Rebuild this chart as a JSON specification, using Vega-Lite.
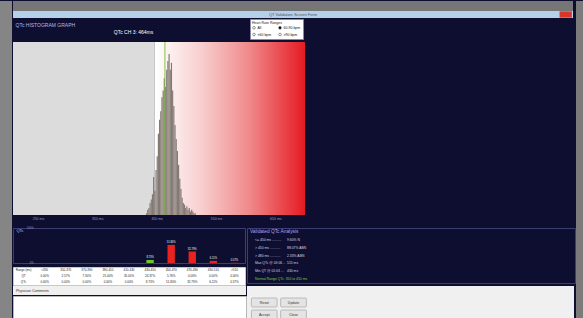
{
  "$schema": "https://vega.github.io/schema/vega-lite/v6.json",
  "background": "#0d0e30",
  "padding": 0,
  "spacing": 0,
  "align": "none",
  "resolve": {"legend": {"fill": "independent", "color": "independent"}},
  "config": {"view": {"stroke": null}, "font": "Liberation Sans"},
  "datasets": {
    "zones": [
      {"zone": "normal", "from": 208, "to": 447},
      {"zone": "prolonged", "from": 447, "to": 700}
    ],
    "hist": [
      {"lo": 432, "hi": 434, "count": 1}, {"lo": 434, "hi": 436, "count": 3},
      {"lo": 436, "hi": 438, "count": 4}, {"lo": 438, "hi": 440, "count": 7},
      {"lo": 440, "hi": 442, "count": 9}, {"lo": 442, "hi": 444, "count": 12},
      {"lo": 444, "hi": 446, "count": 22}, {"lo": 446, "hi": 448, "count": 14},
      {"lo": 448, "hi": 450, "count": 26}, {"lo": 450, "hi": 452, "count": 34},
      {"lo": 452, "hi": 454, "count": 47}, {"lo": 454, "hi": 456, "count": 55},
      {"lo": 456, "hi": 458, "count": 60}, {"lo": 458, "hi": 460, "count": 68},
      {"lo": 460, "hi": 462, "count": 72}, {"lo": 462, "hi": 464, "count": 79},
      {"lo": 464, "hi": 466, "count": 74}, {"lo": 466, "hi": 468, "count": 84},
      {"lo": 468, "hi": 470, "count": 89}, {"lo": 470, "hi": 472, "count": 93},
      {"lo": 472, "hi": 474, "count": 84}, {"lo": 474, "hi": 476, "count": 88},
      {"lo": 476, "hi": 478, "count": 72}, {"lo": 478, "hi": 480, "count": 63},
      {"lo": 480, "hi": 482, "count": 52}, {"lo": 482, "hi": 484, "count": 44},
      {"lo": 484, "hi": 486, "count": 37}, {"lo": 486, "hi": 488, "count": 29},
      {"lo": 488, "hi": 490, "count": 21}, {"lo": 490, "hi": 492, "count": 15},
      {"lo": 492, "hi": 494, "count": 10}, {"lo": 494, "hi": 496, "count": 7},
      {"lo": 496, "hi": 498, "count": 6}, {"lo": 498, "hi": 500, "count": 4},
      {"lo": 500, "hi": 502, "count": 5}, {"lo": 502, "hi": 504, "count": 3},
      {"lo": 504, "hi": 506, "count": 4}, {"lo": 506, "hi": 508, "count": 2},
      {"lo": 508, "hi": 510, "count": 3}, {"lo": 510, "hi": 512, "count": 2},
      {"lo": 512, "hi": 514, "count": 1}, {"lo": 514, "hi": 516, "count": 1}
    ],
    "ranges": [
      {"range": "All"}, {"range": "<60 bpm"}, {"range": "60-90 bpm"}, {"range": ">90 bpm"}
    ],
    "dist": [
      {"range": "<350", "pct": 0, "status": "normal", "label": "0.00%"},
      {"range": "350-370", "pct": 0, "status": "normal", "label": "0.00%"},
      {"range": "370-390", "pct": 0, "status": "normal", "label": "0.00%"},
      {"range": "390-410", "pct": 0, "status": "normal", "label": "0.00%"},
      {"range": "410-430", "pct": 0, "status": "normal", "label": "0.00%"},
      {"range": "430-450", "pct": 8.73, "status": "normal", "label": "8.73%"},
      {"range": "450-470", "pct": 51.8, "status": "abnormal", "label": "51.80%"},
      {"range": "470-490", "pct": 32.79, "status": "abnormal", "label": "32.79%"},
      {"range": "490-510", "pct": 6.11, "status": "abnormal", "label": "6.11%"},
      {"range": ">510", "pct": 0.57, "status": "abnormal", "label": "0.57%"}
    ],
    "table": [
      {"col": "head", "row": "Range (ms)", "text": "Range (ms)"},
      {"col": "head", "row": "QT", "text": "QT"},
      {"col": "head", "row": "QTc", "text": "QTc"},
      {"col": "<350", "row": "Range (ms)", "text": "<350"},
      {"col": "<350", "row": "QT", "text": "0.00%"},
      {"col": "<350", "row": "QTc", "text": "0.00%"},
      {"col": "350-370", "row": "Range (ms)", "text": "350-370"},
      {"col": "350-370", "row": "QT", "text": "2.57%"},
      {"col": "350-370", "row": "QTc", "text": "0.00%"},
      {"col": "370-390", "row": "Range (ms)", "text": "370-390"},
      {"col": "370-390", "row": "QT", "text": "7.30%"},
      {"col": "370-390", "row": "QTc", "text": "0.00%"},
      {"col": "390-410", "row": "Range (ms)", "text": "390-410"},
      {"col": "390-410", "row": "QT", "text": "25.00%"},
      {"col": "390-410", "row": "QTc", "text": "0.00%"},
      {"col": "410-430", "row": "Range (ms)", "text": "410-430"},
      {"col": "410-430", "row": "QT", "text": "35.00%"},
      {"col": "410-430", "row": "QTc", "text": "0.00%"},
      {"col": "430-450", "row": "Range (ms)", "text": "430-450"},
      {"col": "430-450", "row": "QT", "text": "24.37%"},
      {"col": "430-450", "row": "QTc", "text": "8.73%"},
      {"col": "450-470", "row": "Range (ms)", "text": "450-470"},
      {"col": "450-470", "row": "QT", "text": "5.76%"},
      {"col": "450-470", "row": "QTc", "text": "51.80%"},
      {"col": "470-490", "row": "Range (ms)", "text": "470-490"},
      {"col": "470-490", "row": "QT", "text": "0.00%"},
      {"col": "470-490", "row": "QTc", "text": "32.79%"},
      {"col": "490-510", "row": "Range (ms)", "text": "490-510"},
      {"col": "490-510", "row": "QT", "text": "0.00%"},
      {"col": "490-510", "row": "QTc", "text": "6.11%"},
      {"col": ">510", "row": "Range (ms)", "text": ">510"},
      {"col": ">510", "row": "QT", "text": "0.00%"},
      {"col": ">510", "row": "QTc", "text": "0.57%"}
    ],
    "analysis": [
      {"line": 1, "kind": "title", "label": "Validated QTc Analysis", "value": ""},
      {"line": 2, "kind": "item", "label": "<= 450 ms ..........", "value": "9.60% N"},
      {"line": 3, "kind": "item", "label": "> 450 ms ...........", "value": "88.07% ABN"},
      {"line": 4, "kind": "item", "label": "> 480 ms ...........", "value": "2.33% ABN"},
      {"line": 5, "kind": "item", "label": "Max QTc @ 03:06 ..", "value": "515 ms"},
      {"line": 6, "kind": "item", "label": "Min QT @ 01:03 ...", "value": "430 ms"},
      {"line": 7, "kind": "normal", "label": "Normal Range QTc: 350 to 450 ms", "value": ""}
    ],
    "buttons": [
      {"slot": "c1", "row": "r1", "label": "Reset"},
      {"slot": "c2", "row": "r1", "label": "Update"},
      {"slot": "c1", "row": "r2", "label": "Accept"},
      {"slot": "c2", "row": "r2", "label": "Close"}
    ]
  },
  "hconcat": [
    {
      "width": 12, "height": 318,
      "view": {"fill": "#858585", "stroke": null},
      "data": {"values": [{}]},
      "mark": {"type": "text", "text": ""}
    },
    {
      "spacing": 0,
      "align": "none",
      "resolve": {"legend": {"fill": "independent", "color": "independent"}},
      "vconcat": [
        {
          "width": 560, "height": 10,
          "view": {"fill": "#767676", "stroke": null},
          "data": {"values": [{}]},
          "mark": {"type": "text", "text": ""}
        },
        {
          "width": 560, "height": 7,
          "view": {"fill": "#b5d1ea", "stroke": null},
          "data": {"values": [{}]},
          "layer": [
            {"mark": {"type": "text", "text": "QT Validation Screen Form", "fontSize": 4, "color": "#44546a"}},
            {
              "mark": {"type": "rect", "color": "#d9352b"},
              "encoding": {
                "x": {"datum": 0.976, "type": "quantitative", "scale": {"domain": [0, 1]}, "axis": null},
                "x2": {"datum": 0.998},
                "y": {"datum": 0.05, "type": "quantitative", "scale": {"domain": [0, 1]}, "axis": null},
                "y2": {"datum": 0.95}
              }
            }
          ]
        },
        {
          "width": 292, "height": 173,
          "resolve": {"axis": {"y": "independent"}},
          "layer": [
            {
              "data": {"name": "zones"},
              "transform": [{"filter": "datum.zone === 'normal'"}],
              "mark": {"type": "rect", "color": "#dcdcdc"},
              "encoding": {
                "x": {"field": "from", "type": "quantitative",
                  "scale": {"domain": [208, 700], "nice": false, "zero": false},
                  "axis": {"values": [250, 300, 350, 400, 450, 500, 550, 600, 650],
                    "labelExpr": "datum.value + ' ms'", "labelFontSize": 3.5, "labelOverlap": false,
                    "labelColor": "#9a9ac8", "ticks": false, "domain": false, "grid": false,
                    "title": null, "labelPadding": 1.5, "minExtent": 11}},
                "x2": {"field": "to"},
                "y": {"datum": 100, "type": "quantitative", "axis": null},
                "y2": {"datum": 0}
              }
            },
            {
              "data": {"name": "zones"},
              "transform": [{"filter": "datum.zone === 'prolonged'"}],
              "mark": {"type": "rect", "color": {"gradient": "linear", "x1": 0, "x2": 1, "y1": 0, "y2": 0,
                "stops": [
                  {"offset": 0, "color": "#ffffff"},
                  {"offset": 0.3, "color": "#f8d0d0"},
                  {"offset": 0.62, "color": "#f08c8d"},
                  {"offset": 1, "color": "#e51b22"}
                ]}},
              "encoding": {
                "x": {"field": "from", "type": "quantitative"},
                "x2": {"field": "to"},
                "y": {"datum": 100, "type": "quantitative",
                  "axis": {"orient": "right", "labels": false, "ticks": false, "domain": false, "grid": false,
                    "title": "QTc CH 3: 464ms", "titleAngle": 0, "titleAlign": "center", "titleBaseline": "middle",
                    "titleX": -172, "titleY": -11, "titleFontSize": 5, "titleFontWeight": "normal",
                    "titleColor": "#ffffff", "minExtent": 0, "maxExtent": 0}},
                "y2": {"datum": 0}
              }
            },
            {
              "data": {"name": "hist"},
              "mark": {"type": "bar", "color": "#847a74"},
              "encoding": {
                "x": {"field": "lo", "type": "quantitative"},
                "x2": {"field": "hi"},
                "y": {"field": "count", "type": "quantitative", "scale": {"domain": [0, 100], "padding": 0},
                  "axis": {"labels": false, "ticks": false, "domain": false, "grid": false,
                    "title": "QTc HISTOGRAM GRAPH", "titleAngle": 0, "titleAlign": "left", "titleBaseline": "middle",
                    "titleX": 2, "titleY": -18, "titleFontSize": 5, "titleFontWeight": "normal",
                    "titleColor": "#b8b8e6", "minExtent": 0, "maxExtent": 0}},
                "y2": {"datum": 0}
              }
            },
            {
              "data": {"values": [{"qtc": 464}]},
              "mark": {"type": "rule", "color": "#7fc241", "strokeWidth": 1},
              "encoding": {"x": {"field": "qtc", "type": "quantitative"}}
            },
            {
              "data": {"name": "ranges"},
              "mark": {"type": "point", "opacity": 0, "shape": "circle"},
              "encoding": {
                "fill": {"field": "range", "type": "nominal",
                  "scale": {"domain": ["All", "<60 bpm", "60-90 bpm", ">90 bpm"],
                    "range": ["#ffffff", "#ffffff", "#111111", "#ffffff"]},
                  "legend": {"orient": "none", "legendX": 237, "legendY": -23, "columns": 2,
                    "title": "Heart Rate Ranges", "titleFontSize": 3.5, "titleColor": "#222222",
                    "titleFontWeight": "normal", "titlePadding": 1,
                    "labelFontSize": 3.5, "labelColor": "#111111", "labelOffset": 1.5,
                    "symbolType": "circle", "symbolSize": 7, "symbolOpacity": 1,
                    "symbolStrokeColor": "#333333", "symbolStrokeWidth": 0.5,
                    "fillColor": "#ffffff", "strokeColor": "#8888aa", "padding": 2,
                    "rowPadding": 1, "columnPadding": 5}}
              }
            }
          ]
        },
        {
          "spacing": 0,
          "align": "none",
          "hconcat": [
            {
              "spacing": 0,
              "align": "none",
              "vconcat": [
                {
                  "width": 232, "height": 35,
                  "view": {"stroke": "#3a3e72", "strokeWidth": 1},
                  "data": {"name": "dist"},
                  "layer": [
                    {
                      "mark": {"type": "bar"},
                      "encoding": {
                        "x": {"field": "range", "type": "nominal", "sort": null,
                          "scale": {"domain": ["head", "<350", "350-370", "370-390", "390-410", "410-430", "430-450", "450-470", "470-490", "490-510", ">510"],
                            "paddingInner": 0.65, "paddingOuter": 0.325}, "axis": null},
                        "y": {"field": "pct", "type": "quantitative", "scale": {"domain": [0, 100]},
                          "axis": {"values": [0, 10, 20, 30, 40, 50, 60, 70, 80, 90, 100], "offset": -21,
                            "labelExpr": "datum.value + '%'", "labelFontSize": 2.6, "labelColor": "#9a9ac8",
                            "ticks": false, "domain": false, "grid": false, "labelOverlap": false,
                            "labelPadding": 1,
                            "title": "QTc", "titleAngle": 0, "titleAlign": "left", "titleBaseline": "middle",
                            "titleX": -18, "titleY": 2, "titleFontSize": 4, "titleFontWeight": "normal",
                            "titleColor": "#c8c8f0"}},
                        "color": {"field": "status", "type": "nominal",
                          "scale": {"domain": ["normal", "abnormal"], "range": ["#6cc531", "#e8231f"]},
                          "legend": null}
                      }
                    },
                    {
                      "transform": [{"filter": "datum.pct > 0"}],
                      "mark": {"type": "text", "dy": -2.5, "fontSize": 2.6, "color": "#ffffff"},
                      "encoding": {
                        "x": {"field": "range", "type": "nominal", "sort": null},
                        "y": {"field": "pct", "type": "quantitative"},
                        "text": {"field": "label"}
                      }
                    }
                  ]
                },
                {
                  "width": 232, "height": 18,
                  "view": {"fill": "#ffffff", "stroke": "#c8c8c8"},
                  "data": {"name": "table"},
                  "mark": {"type": "text", "fontSize": 3, "color": "#222222"},
                  "encoding": {
                    "x": {"field": "col", "type": "nominal", "sort": null,
                      "scale": {"domain": ["head", "<350", "350-370", "370-390", "390-410", "410-430", "430-450", "450-470", "470-490", "490-510", ">510"]},
                      "axis": null},
                    "y": {"field": "row", "type": "nominal", "sort": null,
                      "scale": {"domain": ["Range (ms)", "QT", "QTc"]}, "axis": null},
                    "text": {"field": "text"}
                  }
                }
              ]
            },
            {
              "width": 328, "height": 55,
              "view": {"stroke": "#3a3e72", "strokeWidth": 1},
              "data": {"name": "analysis"},
              "encoding": {
                "y": {"field": "line", "type": "ordinal", "scale": {"domain": [1, 2, 3, 4, 5, 6, 7]}, "axis": null}
              },
              "layer": [
                {
                  "transform": [{"filter": "datum.kind === 'title'"}],
                  "mark": {"type": "text", "align": "left", "fontSize": 4.8, "color": "#a9a2ff"},
                  "encoding": {
                    "x": {"datum": "label", "type": "nominal",
                      "scale": {"type": "point", "domain": ["label", "value"], "range": [3, 40], "padding": 0}, "axis": null},
                    "text": {"field": "label"}
                  }
                },
                {
                  "transform": [{"filter": "datum.kind === 'item'"}],
                  "mark": {"type": "text", "align": "left", "fontSize": 3.4, "color": "#d4d4ec", "dx": 5},
                  "encoding": {
                    "x": {"datum": "label", "type": "nominal"},
                    "text": {"field": "label"}
                  }
                },
                {
                  "transform": [{"filter": "datum.kind === 'item'"}],
                  "mark": {"type": "text", "align": "left", "fontSize": 3.4, "color": "#d4d4ec"},
                  "encoding": {
                    "x": {"datum": "value", "type": "nominal"},
                    "text": {"field": "value"}
                  }
                },
                {
                  "transform": [{"filter": "datum.kind === 'normal'"}],
                  "mark": {"type": "text", "align": "left", "fontSize": 3.4, "color": "#6fd24a", "dx": 5},
                  "encoding": {
                    "x": {"datum": "label", "type": "nominal"},
                    "text": {"field": "label"}
                  }
                }
              ]
            }
          ]
        },
        {
          "spacing": 0,
          "align": "none",
          "hconcat": [
            {
              "spacing": 0,
              "align": "none",
              "vconcat": [
                {
                  "width": 233, "height": 9,
                  "view": {"fill": "#f0f0f0", "stroke": null},
                  "data": {"values": [{}]},
                  "mark": {"type": "text", "text": "Physician Comments", "align": "left", "fontSize": 3.5, "color": "#333333"},
                  "encoding": {"x": {"datum": 0, "type": "quantitative", "scale": {"domain": [0, 1], "range": [3, 233]}, "axis": null}}
                },
                {
                  "width": 233, "height": 24,
                  "view": {"fill": "#ffffff", "stroke": "#b8b8b8"},
                  "data": {"values": [{}]},
                  "mark": {"type": "text", "text": ""}
                }
              ]
            },
            {
              "width": 327, "height": 33,
              "view": {"fill": "#f0f0f0", "stroke": null},
              "data": {"name": "buttons"},
              "encoding": {
                "x": {"field": "slot", "type": "nominal",
                  "scale": {"type": "band", "domain": ["c1", "c2", "c3", "c4", "c5", "c6", "c7", "c8", "c9", "c10", "c11"],
                    "paddingInner": 0.12, "paddingOuter": 0.15}, "axis": null},
                "y": {"field": "row", "type": "nominal",
                  "scale": {"type": "band", "domain": ["r0", "r1", "r2"], "paddingInner": 0.25, "paddingOuter": 0}, "axis": null}
              },
              "layer": [
                {"mark": {"type": "rect", "fill": "#e4e4e4", "stroke": "#9a9a9a", "strokeWidth": 0.6, "cornerRadius": 1}},
                {"mark": {"type": "text", "fontSize": 3.5, "color": "#333333"}, "encoding": {"text": {"field": "label"}}}
              ]
            }
          ]
        }
      ]
    },
    {
      "width": 11, "height": 318,
      "view": {"fill": "#7b7b7b", "stroke": null},
      "data": {"values": [{}]},
      "mark": {"type": "text", "text": ""}
    }
  ]
}
